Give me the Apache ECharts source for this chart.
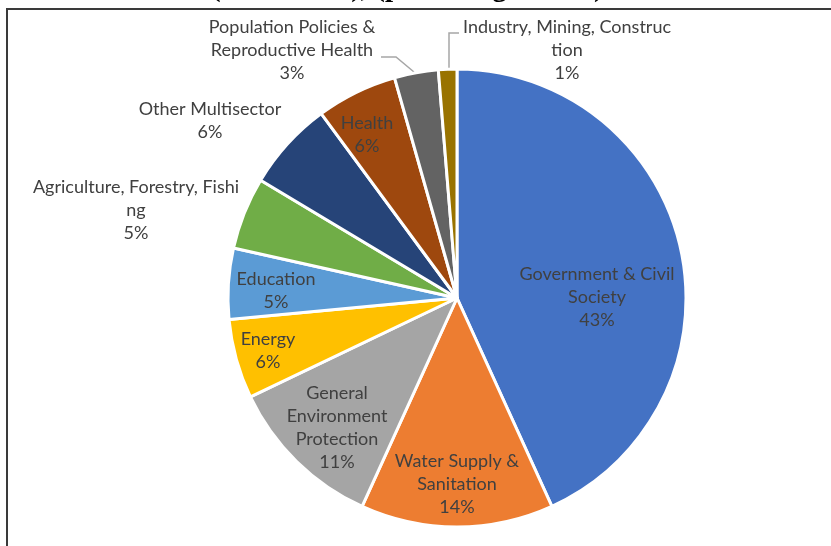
<!DOCTYPE html>
<html>
<head>
<meta charset="utf-8">
<script src="https://cdn.jsdelivr.net/npm/echarts@6/dist/echarts.min.js"></script>
<style>html,body{margin:0;padding:0;background:#fff;}#c{width:831px;height:546px;}</style>
</head>
<body>
<div id="c"></div>
<script>
// ---- data ----
var categories = [
  'Government & Civil Society',
  'Water Supply & Sanitation',
  'General Environment Protection',
  'Energy',
  'Education',
  'Agriculture, Forestry, Fishing',
  'Other Multisector',
  'Health',
  'Population Policies & Reproductive Health',
  'Industry, Mining, Construction'
];
var labelTexts = [
  'Government & Civil\nSociety',
  'Water Supply &\nSanitation',
  'General\nEnvironment\nProtection',
  'Energy',
  'Education',
  'Agriculture, Forestry, Fishi\nng',
  'Other Multisector',
  'Health',
  'Population Policies &\nReproductive Health',
  'Industry, Mining, Construc\ntion'
];
var values = [43.2, 13.6, 11.1, 5.6, 5.0, 5.1, 6.3, 5.7, 3.1, 1.3];
var titleText = '(2002\u20132017), (percentage share)';

// ---- styles / layout ----
var colors = ['#4472C4','#ED7D31','#A5A5A5','#FFC000','#5B9BD5','#70AD47','#264478','#9E480E','#636363','#997300'];
var outside = [false,false,false,false,false,true,true,false,true,true];
var withLine = [false,false,false,false,false,false,false,false,true,true];
var labelPos = [[597,297],[457,484],[337,428],[268,351],[276,291],[136,210],[210,121],[367,135],[292,50],[567,50]];
var linePts = {
  8: [[414,72],[396,57],[381,57]],
  9: [[449,68],[449,33],[459,33]]
};

var chart = echarts.init(document.getElementById('c'), null, {renderer:'canvas'});
var data = categories.map(function(n,i){
  return {
    name: n,
    value: values[i],
    itemStyle: {color: colors[i]},
    label: {position: outside[i] ? 'outside' : 'inside'},
    labelLine: {show: withLine[i]}
  };
});
chart.setOption({
  backgroundColor: '#fff',
  animation: false,
  graphic: [
    {type:'rect', shape:{x:7, y:9, width:1000, height:1000}, style:{fill:'none', stroke:'#3a3a3a', lineWidth:2}, z:10},
    {type:'text', x:211, y:3, style:{text:titleText, font:'bold 29px "Liberation Serif"', fill:'#000', textAlign:'left', textVerticalAlign:'bottom'}, z:10}
  ],
  series: [{
    type: 'pie',
    center: [457, 298],
    radius: 229,
    startAngle: 90,
    clockwise: true,
    avoidLabelOverlap: false,
    emphasis: {disabled: true},
    itemStyle: {borderColor:'#fff', borderWidth:3},
    label: {
      show: true,
      color: '#404040',
      fontFamily: 'Lato',
      fontSize: 18,
      lineHeight: 23,
      align: 'center',
      formatter: function(p){ return labelTexts[p.dataIndex] + '\n' + Math.round(p.percent) + '%'; }
    },
    labelLine: {
      length: 10, length2: 10, smooth: false,
      lineStyle: {color:'#a6a6a6', width:1.5}
    },
    labelLayout: function(p){
      var i = p.dataIndex;
      var o = {x: labelPos[i][0], y: labelPos[i][1], align:'center', verticalAlign:'middle', hideOverlap:false, moveOverlap:null};
      if (linePts[i]) o.labelLinePoints = linePts[i];
      return o;
    },
    data: data
  }]
});
</script>
</body>
</html>
